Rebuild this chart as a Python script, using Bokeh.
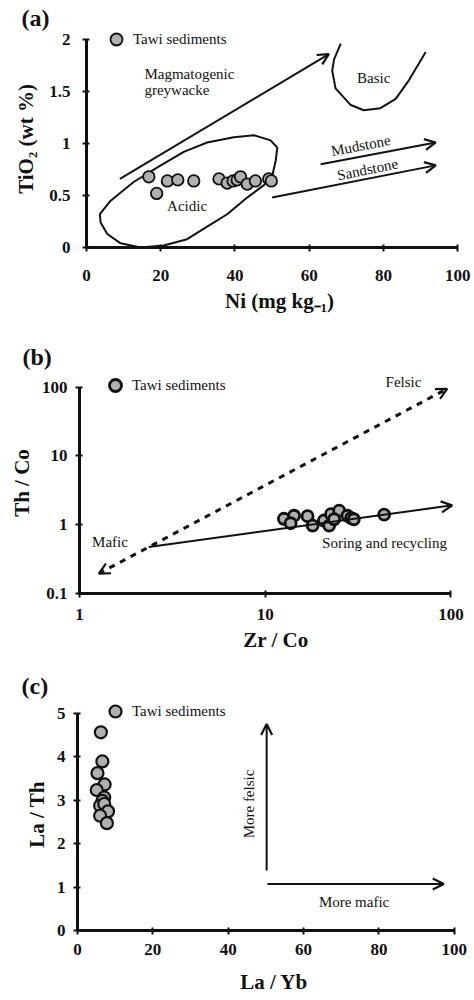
from bokeh.plotting import figure
from bokeh.models import Range1d, FixedTicker, Label, Arrow, OpenHead, Legend, LegendItem
from bokeh.embed import file_html
from bokeh.resources import INLINE

# ---------------- data ----------------
# (a) Ni vs TiO2
ni = [16.8, 18.9, 21.8, 24.6, 28.9, 35.7, 37.9, 39.5, 40.6, 41.5, 43.3, 45.5, 49.1, 49.8]
tio2 = [0.68, 0.52, 0.64, 0.65, 0.64, 0.66, 0.62, 0.64, 0.65, 0.68, 0.61, 0.64, 0.66, 0.64]
# outline of the "Acidic" field (Ni, TiO2)
acidic_ni = [3.6, 6.5, 12.7, 19.1, 26.2, 32.5, 39.7, 45.1, 49.6, 51.4, 51.0, 50.0, 47.8,
             43.3, 37.9, 32.5, 27.1, 20.8, 14.6, 9.2, 5.6, 3.8]
acidic_ti = [0.32, 0.45, 0.63, 0.77, 0.92, 1.01, 1.06, 1.08, 1.03, 0.96, 0.84, 0.68, 0.60,
             0.48, 0.32, 0.20, 0.08, 0.02, 0.0, 0.04, 0.13, 0.24]
# outline of the "Basic" field
basic_ni = [68.5, 66.7, 66.2, 67.1, 71.2, 74.7, 79.2, 83.3, 86.9, 91.4]
basic_ti = [1.96, 1.81, 1.70, 1.53, 1.37, 1.32, 1.34, 1.43, 1.61, 1.88]
a_xticks = [0, 20, 40, 60, 80, 100]
a_yticks = [0, 0.5, 1, 1.5, 2]
a_ylabels = ["0", "0.5", "1", "1.5", "2"]

# (b) Zr/Co vs Th/Co
zr_co = [12.6, 14.3, 13.7, 16.9, 18.0, 20.7, 22.6, 22.1, 25.0, 23.5, 27.7, 29.0, 30.0, 43.7]
th_co = [1.22, 1.35, 1.05, 1.33, 0.97, 1.15, 1.42, 0.97, 1.60, 1.20, 1.35, 1.25, 1.20, 1.40]
b_xticks = [1, 10, 100]
b_xlabels = ["1", "10", "100"]
b_yticks = [0.1, 1, 10, 100]
b_ylabels = ["0.1", "1", "10", "100"]

# (c) La/Yb vs La/Th
la_yb = [6.2, 6.6, 5.3, 7.2, 5.1, 7.1, 6.6, 6.0, 7.1, 8.1, 6.0, 7.8]
la_th = [4.56, 3.89, 3.62, 3.36, 3.23, 3.06, 2.98, 2.87, 2.91, 2.74, 2.64, 2.47]
c_xticks = [0, 20, 40, 60, 80, 100]
c_yticks = [0, 1, 2, 3, 4, 5]

SERIF = "Liberation Serif"
FILL = "#b0b0b0"
INK = "#111111"


def make_fig(height, x_range, y_range, borders, tag, tag_offset, tag_standoff,
             x_type="linear", y_type="linear"):
    left, right, top, bottom = borders
    p = figure(width=474, height=height, x_range=x_range, y_range=y_range,
               x_axis_type=x_type, y_axis_type=y_type, title=tag,
               output_backend="svg", toolbar_location=None,
               min_border_left=left, min_border_right=right,
               min_border_top=top, min_border_bottom=bottom)
    p.title.align = "left"
    p.title.offset = tag_offset
    p.title.standoff = tag_standoff
    p.title.text_font = SERIF
    p.title.text_font_style = "bold"
    p.title.text_font_size = "24px"
    p.title.text_color = INK
    p.grid.visible = False
    p.outline_line_color = None
    p.background_fill_color = "white"
    p.border_fill_color = "white"
    for ax in (p.xaxis[0], p.yaxis[0]):
        ax.axis_line_width = 3
        ax.axis_line_color = INK
        ax.major_tick_in = 3
        ax.major_tick_out = 4
        ax.major_tick_line_width = 2
        ax.major_tick_line_color = INK
        ax.minor_tick_line_color = None
        ax.major_label_text_font = SERIF
        ax.major_label_text_font_style = "bold"
        ax.major_label_text_font_size = "17px"
        ax.major_label_text_color = INK
        ax.axis_label_text_font = SERIF
        ax.axis_label_text_font_style = "bold"
        ax.axis_label_text_font_size = "21px"
        ax.axis_label_text_color = INK
    return p


def add_legend(p, renderer, loc):
    leg = Legend(items=[LegendItem(label="Tawi sediments", renderers=[renderer])],
                 location=loc, padding=0, margin=0, glyph_width=30, glyph_height=30,
                 label_standoff=2, border_line_color=None, background_fill_alpha=0,
                 label_text_font=SERIF, label_text_font_size="15px", label_text_color=INK)
    p.add_layout(leg)


def text(p, x, y, s, angle=0.0, align="center"):
    p.add_layout(Label(x=x, y=y, text=s, text_font=SERIF, text_font_size="15px",
                       text_align=align, text_baseline="middle", angle=angle,
                       text_color=INK))


def arrow(p, x0, y0, x1, y1, both=False, dash="solid", width=2):
    head = dict(size=11, line_width=2.2, line_color=INK)
    p.add_layout(Arrow(x_start=x0, y_start=y0, x_end=x1, y_end=y1,
                       line_width=width, line_color=INK, line_dash=dash,
                       end=OpenHead(**head), start=OpenHead(**head) if both else None))


# ---------------- (a) ----------------
pa = make_fig(330, Range1d(0, 104), Range1d(0, 2.087), (86, 2, 30, 83), "(a)", -65, 0)
pa.xaxis.ticker = FixedTicker(ticks=a_xticks)
pa.yaxis.ticker = FixedTicker(ticks=a_yticks)
pa.yaxis.major_label_overrides = dict(zip(a_yticks, a_ylabels))
pa.xaxis.bounds = (0, 100)
pa.yaxis.bounds = (0, 2)
pa.xaxis.major_label_standoff = 18
pa.yaxis.major_label_standoff = 12
pa.xaxis.axis_label_standoff = 5
pa.yaxis.axis_label_standoff = 8
pa.xaxis.axis_label = "Ni (mg kg\u208b\u2081)"
pa.yaxis.axis_label = "TiO\u2082 (wt %)"

pa.patch(acidic_ni, acidic_ti, fill_color=None, line_color=INK, line_width=2)
pa.line(basic_ni, basic_ti, line_color=INK, line_width=2)
arrow(pa, 9.0, 0.66, 65.3, 1.86)
arrow(pa, 63.1, 0.80, 94.1, 1.01)
arrow(pa, 50.0, 0.48, 94.1, 0.79)
ra = pa.scatter(ni, tio2, size=11.5, fill_color=FILL, line_color=INK, line_width=1.8)
add_legend(pa, ra, (15, 193))
text(pa, 15.6, 1.67, "Magmatogenic", align="left")
text(pa, 15.6, 1.51, "greywacke", align="left")
text(pa, 77.4, 1.63, "Basic")
text(pa, 27.1, 0.40, "Acidic")
text(pa, 73.9, 0.98, "Mudstone", angle=0.19)
text(pa, 75.7, 0.75, "Sandstone", angle=0.2)

# ---------------- (b) ----------------
pb = make_fig(330, Range1d(1, 130.6), Range1d(0.1, 163), (79, 2, 42, 67), "(b)", -57, 6,
              x_type="log", y_type="log")
pb.xaxis.ticker = FixedTicker(ticks=b_xticks)
pb.yaxis.ticker = FixedTicker(ticks=b_yticks)
pb.xaxis.major_label_overrides = dict(zip(b_xticks, b_xlabels))
pb.yaxis.major_label_overrides = dict(zip(b_yticks, b_ylabels))
pb.xaxis.bounds = (1, 100)
pb.yaxis.bounds = (0.1, 100)
pb.xaxis.major_label_standoff = 11
pb.yaxis.major_label_standoff = 8
pb.xaxis.axis_label_standoff = 5
pb.yaxis.axis_label_standoff = 5
pb.xaxis.axis_label = "Zr / Co"
pb.yaxis.axis_label = "Th / Co"

arrow(pb, 1.27, 0.195, 95.4, 94.5, both=True, dash="6 6", width=3)
arrow(pb, 2.36, 0.474, 101.5, 1.91)
rb = pb.scatter(zr_co, th_co, size=11, fill_color=FILL, line_color=INK, line_width=2.8)
add_legend(pb, rb, (21, 193))
text(pb, 55.5, 118, "Felsic")
text(pb, 1.46, 0.56, "Mafic")
text(pb, 43.9, 0.55, "Soring and recycling")

# ---------------- (c) ----------------
pc = make_fig(340, Range1d(0, 104.3), Range1d(0, 5.337), (77, 4, 38, 70), "(c)", -56, 0)
pc.xaxis.ticker = FixedTicker(ticks=c_xticks)
pc.yaxis.ticker = FixedTicker(ticks=c_yticks)
pc.xaxis.bounds = (0, 100)
pc.yaxis.bounds = (0, 5)
pc.xaxis.major_label_standoff = 9
pc.yaxis.major_label_standoff = 8
pc.xaxis.axis_label_standoff = 12
pc.yaxis.axis_label_standoff = 5
pc.xaxis.axis_label = "La / Yb"
pc.yaxis.axis_label = "La / Th"

arrow(pc, 50.2, 1.38, 50.2, 4.75)
arrow(pc, 50.4, 1.07, 97.2, 1.07)
rc = pc.scatter(la_yb, la_th, size=12, fill_color=FILL, line_color=INK, line_width=2.2)
add_legend(pc, rc, (23, 204))
text(pc, 45.6, 2.91, "More felsic", angle=1.5708)
text(pc, 73.4, 0.65, "More mafic")

open("out.html", "w").write(file_html([pa, pb, pc], INLINE))
